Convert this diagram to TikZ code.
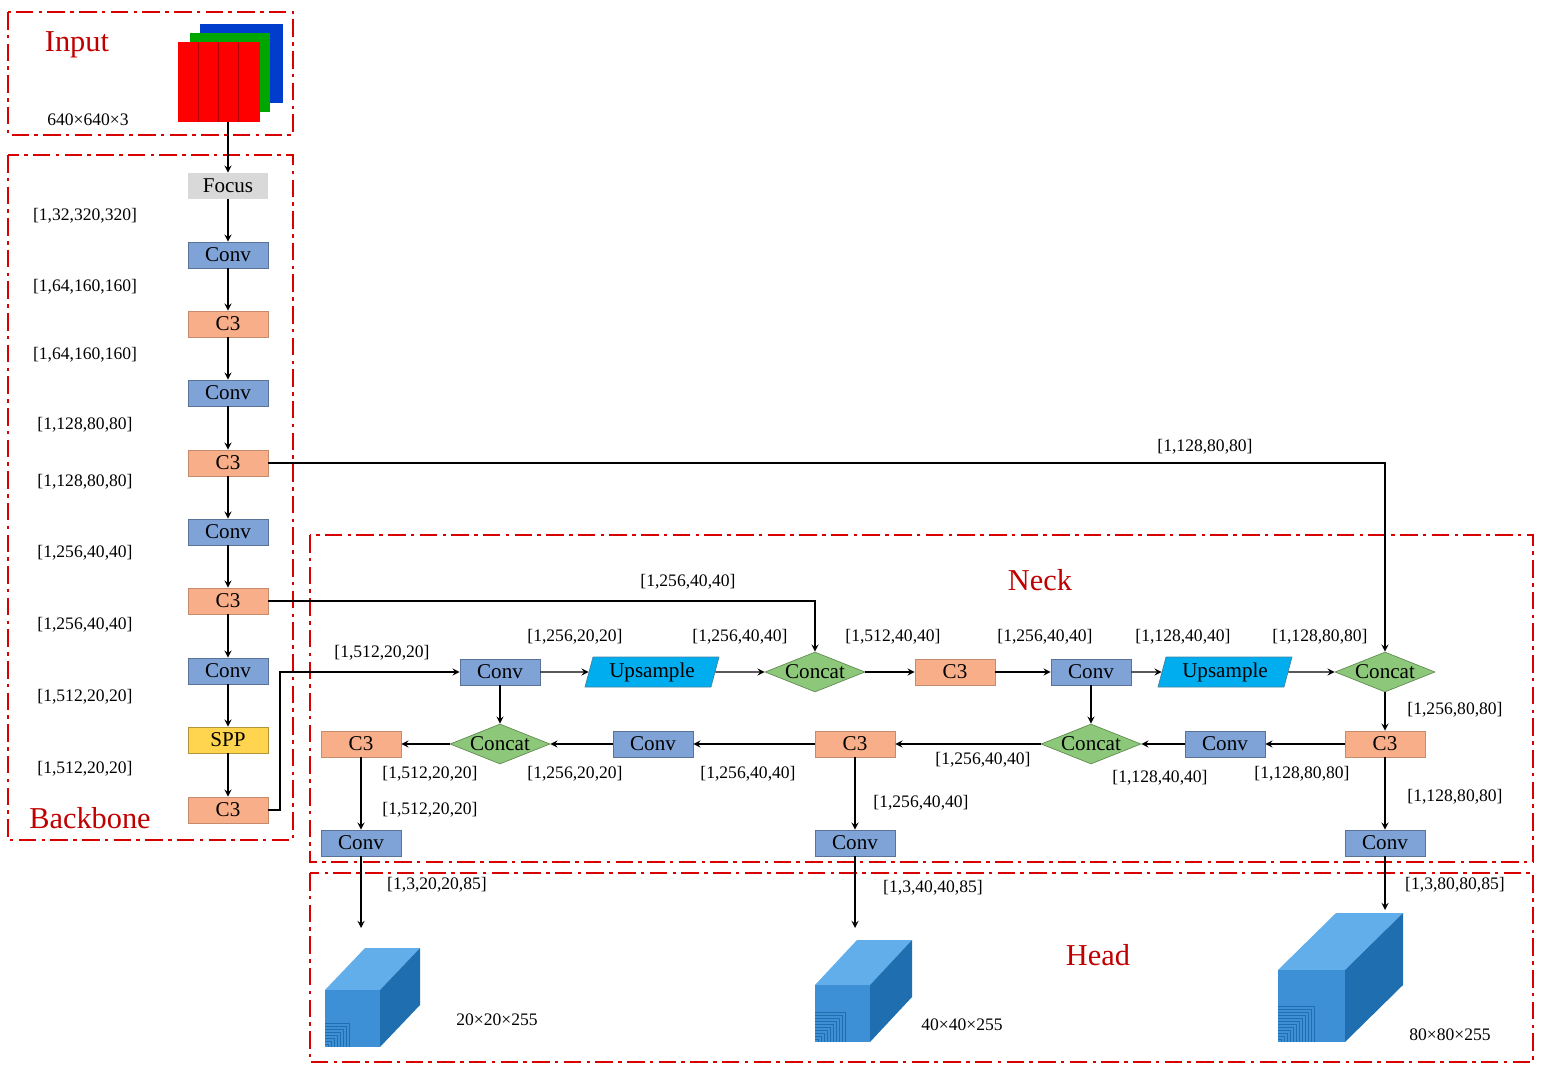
\documentclass[tikz,border=0pt]{standalone}
\usepackage{fontspec}
\setmainfont{Liberation Serif}
\usetikzlibrary{shapes.geometric, arrows}
\definecolor{convblue}{HTML}{7FA3D7}
\definecolor{cthree}{HTML}{F8AE88}
\definecolor{catgreen}{HTML}{8DC87A}
\definecolor{sppyel}{HTML}{FFD54F}
\definecolor{focgray}{HTML}{D9D9D9}
\definecolor{titred}{HTML}{C00000}
\definecolor{cubef}{HTML}{3D8FD6}
\definecolor{cubet}{HTML}{62AEEA}
\definecolor{cubes}{HTML}{1F6FB0}
\begin{document}
\begin{tikzpicture}[x=0.02cm, y=-0.02cm]
        \tikzstyle{blk} = [rectangle, minimum width=1.6cm, minimum height=0.52cm, inner sep=1pt, text centered, font=\large]
        \tikzstyle{conv} = [blk, fill=convblue, draw=convblue!70!black]
        \tikzstyle{cthr} = [blk, fill=cthree, draw=cthree!80!black]
        \tikzstyle{concat} = [diamond, aspect=2.6, minimum width=2cm, minimum height=0.8cm, inner sep=0pt, fill=catgreen, draw=catgreen!70!black, font=\large]
        \tikzstyle{upsam} = [trapezium, trapezium left angle=75, trapezium right angle=105, minimum width=2.3cm, minimum height=0.6cm, inner sep=1pt, fill=cyan, draw=cyan!60!black, font=\large]
        \tikzstyle{frame} = [draw=red!85!black, thick, dash pattern=on 10pt off 3pt on 2pt off 3pt]
        \tikzstyle{title} = [text=titred, font=\LARGE]
        \tikzstyle{lab} = [font=\normalsize]
        \tikzstyle{arrow} = [thick,->,>=stealth]

        \useasboundingbox (0,0) rectangle (1541,1074);

        % frames
        \draw [frame] (8,12) rectangle (293,135);
        \draw [frame] (8,155) rectangle (293,840);
        \draw [frame] (310,535) rectangle (1533,862);
        \draw [frame] (310,873) rectangle (1533,1062);
        \node [title] at (77,45) {Input};
        \node [title] at (90,818) {Backbone};
        \node [title] at (1040,580) {Neck};
        \node [title] at (1098,955) {Head};
        \node [lab] at (88,120) {640×640×3};

        % input image
        \fill [blue!70!cyan!80!black] (200,24) rectangle (283,103);
        \fill [green!65!black] (190,33) rectangle (270,112);
        \fill [red] (178,42) rectangle (260,122);
        \foreach \x in {198,218,238} \draw [red!70!black] (\x,42) -- (\x,122);
        \coordinate (img) at (228,122);

        % backbone
        \node (focus) [blk, fill=focgray] at (228,186) {Focus};
        \node (b1) [conv] at (228,255) {Conv};
        \node (b2) [cthr] at (228,324) {C3};
        \node (b3) [conv] at (228,393) {Conv};
        \node (b4) [cthr] at (228,463) {C3};
        \node (b5) [conv] at (228,532) {Conv};
        \node (b6) [cthr] at (228,601) {C3};
        \node (b7) [conv] at (228,671) {Conv};
        \node (spp) [blk, fill=sppyel, draw=sppyel!70!black] at (228,740) {SPP};
        \node (b8) [cthr] at (228,810) {C3};
        \draw [arrow] (img) -- (focus);
        \draw [arrow] (focus) -- (b1);
        \draw [arrow] (b1) -- (b2);
        \draw [arrow] (b2) -- (b3);
        \draw [arrow] (b3) -- (b4);
        \draw [arrow] (b4) -- (b5);
        \draw [arrow] (b5) -- (b6);
        \draw [arrow] (b6) -- (b7);
        \draw [arrow] (b7) -- (spp);
        \draw [arrow] (spp) -- (b8);
        \node [lab] at (85,216) {[1,32,320,320]};
        \node [lab] at (85,287) {[1,64,160,160]};
        \node [lab] at (85,355) {[1,64,160,160]};
        \node [lab] at (85,425) {[1,128,80,80]};
        \node [lab] at (85,482) {[1,128,80,80]};
        \node [lab] at (85,553) {[1,256,40,40]};
        \node [lab] at (85,625) {[1,256,40,40]};
        \node [lab] at (85,697) {[1,512,20,20]};
        \node [lab] at (85,769) {[1,512,20,20]};

        % neck, top row
        \node (nconv1) [conv] at (500,672) {Conv};
        \node (nup1) [upsam] at (652,672) {Upsample};
        \node (ncat1) [concat] at (815,672) {Concat};
        \node (nc31) [cthr] at (955,672) {C3};
        \node (nconv2) [conv] at (1091,672) {Conv};
        \node (nup2) [upsam] at (1225,672) {Upsample};
        \node (ncat2) [concat] at (1385,672) {Concat};
        % neck, bottom row
        \node (nc32) [cthr] at (361,744) {C3};
        \node (ncat4) [concat] at (500,744) {Concat};
        \node (nconv4) [conv] at (653,744) {Conv};
        \node (nc33) [cthr] at (855,744) {C3};
        \node (ncat3) [concat] at (1091,744) {Concat};
        \node (nconv3) [conv] at (1225,744) {Conv};
        \node (nc34) [cthr] at (1385,744) {C3};
        % outputs
        \node (o1) [conv] at (361,843) {Conv};
        \node (o2) [conv] at (855,843) {Conv};
        \node (o3) [conv] at (1385,843) {Conv};

        \draw [arrow] (b4.east) -| (ncat2.north);
        \draw [arrow] (b6.east) -| (ncat1.north);
        \draw [arrow] (b8.east) -- (280,810) |- (nconv1.west);
        \node [lab] at (1205,447) {[1,128,80,80]};
        \node [lab] at (688,582) {[1,256,40,40]};
        \node [lab] at (382,653) {[1,512,20,20]};

        \draw [arrow] (nconv1) -- (nup1);
        \draw [arrow] (nup1) -- (ncat1);
        \draw [arrow] (ncat1) -- (nc31);
        \draw [arrow] (nc31) -- (nconv2);
        \draw [arrow] (nconv2) -- (nup2);
        \draw [arrow] (nup2) -- (ncat2);
        \node [lab] at (575,637) {[1,256,20,20]};
        \node [lab] at (740,637) {[1,256,40,40]};
        \node [lab] at (893,637) {[1,512,40,40]};
        \node [lab] at (1045,637) {[1,256,40,40]};
        \node [lab] at (1183,637) {[1,128,40,40]};
        \node [lab] at (1320,637) {[1,128,80,80]};

        \draw [arrow] (ncat2) -- (nc34);
        \draw [arrow] (nconv1) -- (ncat4);
        \draw [arrow] (nconv2) -- (ncat3);
        \node [lab] at (1455,710) {[1,256,80,80]};

        \draw [arrow] (nc34) -- (nconv3);
        \draw [arrow] (nconv3) -- (ncat3);
        \draw [arrow] (ncat3) -- (nc33);
        \draw [arrow] (nc33) -- (nconv4);
        \draw [arrow] (nconv4) -- (ncat4);
        \draw [arrow] (ncat4) -- (nc32);
        \node [lab] at (1302,774) {[1,128,80,80]};
        \node [lab] at (1160,778) {[1,128,40,40]};
        \node [lab] at (983,760) {[1,256,40,40]};
        \node [lab] at (748,774) {[1,256,40,40]};
        \node [lab] at (575,774) {[1,256,20,20]};
        \node [lab] at (430,774) {[1,512,20,20]};

        \draw [arrow] (nc32) -- (o1);
        \draw [arrow] (nc33) -- (o2);
        \draw [arrow] (nc34) -- (o3);
        \node [lab] at (430,810) {[1,512,20,20]};
        \node [lab] at (921,803) {[1,256,40,40]};
        \node [lab] at (1455,797) {[1,128,80,80]};

        % head cubes
        \foreach \name/\x/\y/\w/\h/\d/\dy/\n in {h1/325/990/55/57/40/42/8, h2/815/985/55/57/42/45/10, h3/1278/970/67/72/58/57/12} {
            \fill [cubet] (\x,\y) -- ++(\d,-\dy) -- ++(\w,0) -- ++(-\d,\dy) -- cycle;
            \fill [cubes] (\x+\w,\y) -- ++(\d,-\dy) -- ++(0,\h) -- ++(-\d,\dy) -- cycle;
            \fill [cubef] (\x,\y) rectangle (\x+\w,\y+\h);
            \foreach \i in {1,...,\n} {
                \draw [cubes, thin] (\x,{\y+\h-\i*3}) -- (\x+\i*3,{\y+\h-\i*3}) -- (\x+\i*3,\y+\h);
            }
            \coordinate (\name) at (\x+\w/2+\d/2,\y-\dy);
        }
        \draw [arrow] (o1) -- (361,928);
        \draw [arrow] (o2) -- (855,928);
        \draw [arrow] (o3) -- (1385,910);
        \node [lab] at (437,885) {[1,3,20,20,85]};
        \node [lab] at (933,888) {[1,3,40,40,85]};
        \node [lab] at (1455,885) {[1,3,80,80,85]};
        \node [lab] at (497,1020) {20×20×255};
        \node [lab] at (962,1025) {40×40×255};
        \node [lab] at (1450,1035) {80×80×255};
    \end{tikzpicture}
\end{document}
